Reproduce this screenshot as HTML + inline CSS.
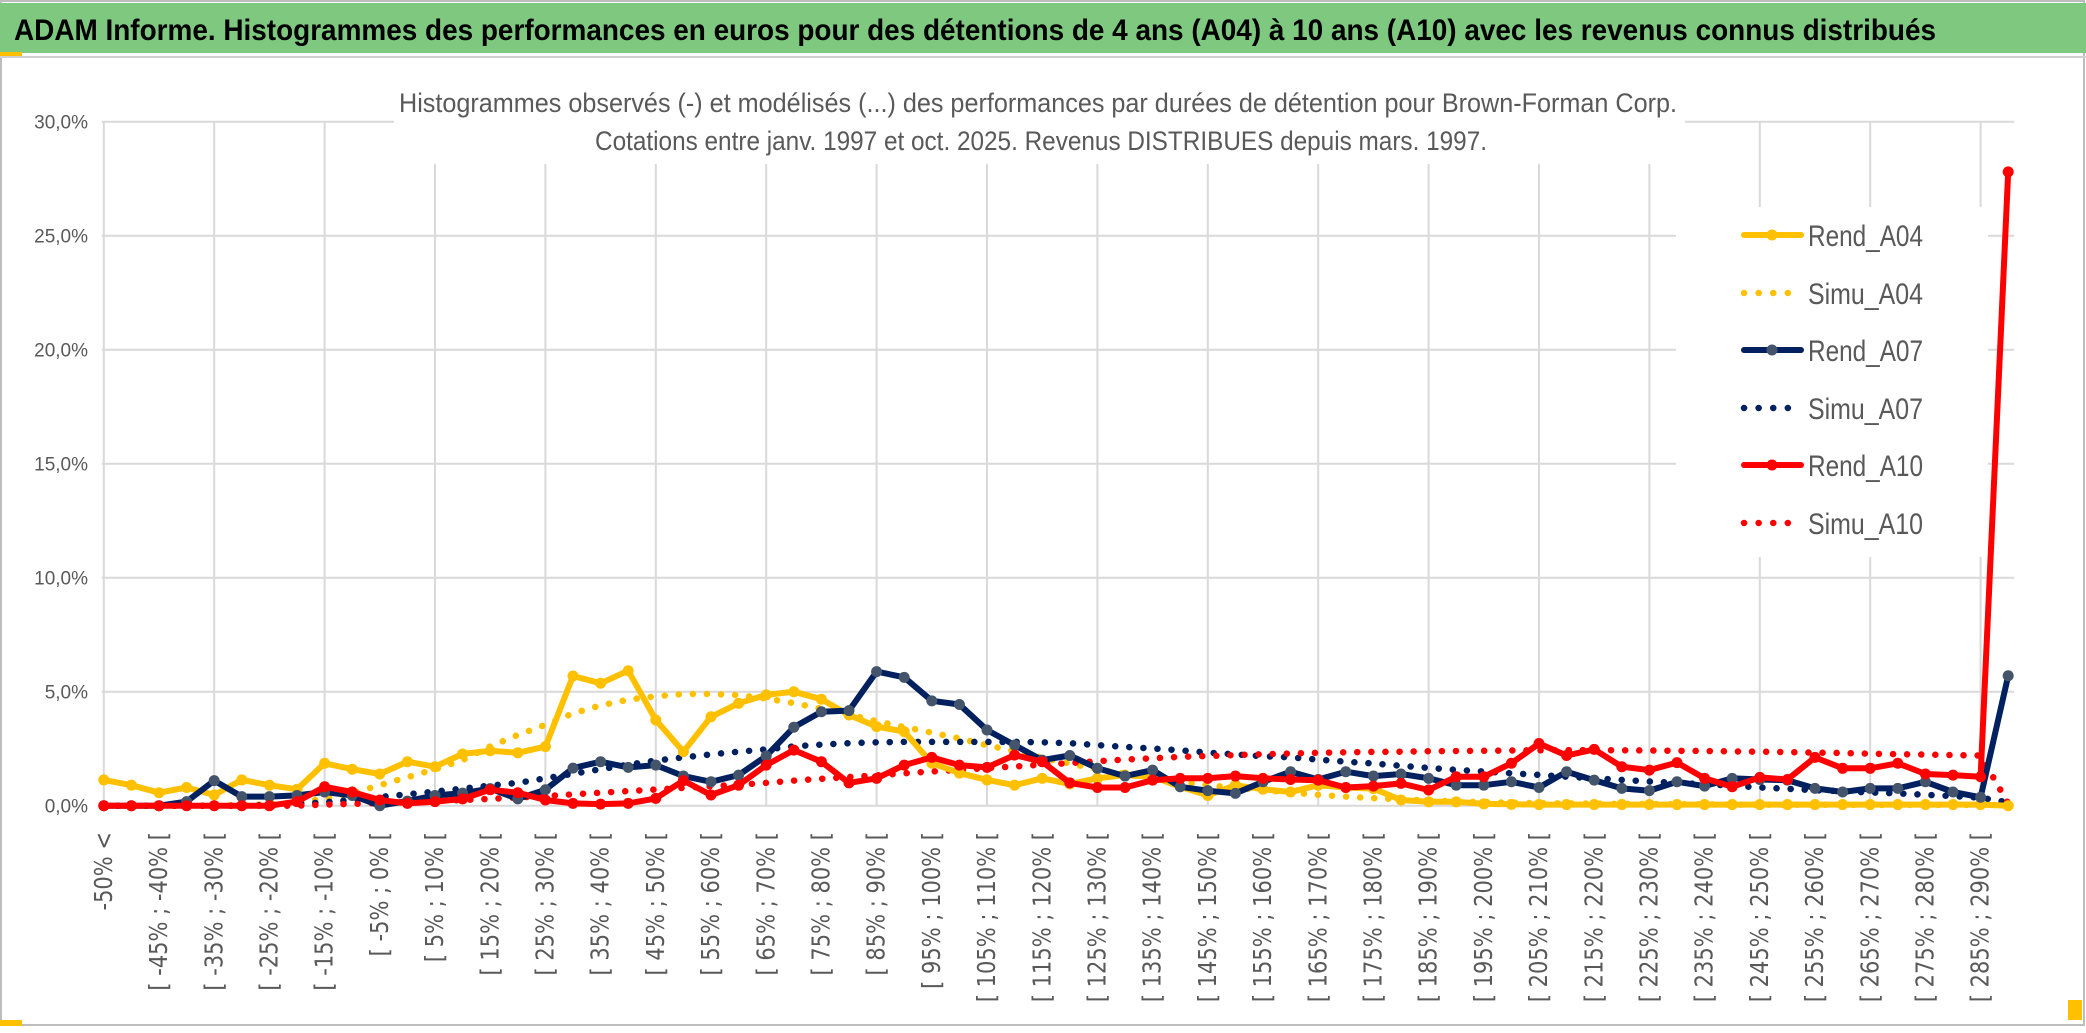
<!DOCTYPE html>
<html><head><meta charset="utf-8"><style>
html,body{margin:0;padding:0;background:#fff;}
svg{display:block;}
</style></head><body>
<svg id="chart" width="2086" height="1033" viewBox="0 0 2086 1033" xmlns="http://www.w3.org/2000/svg">
<rect x="0" y="0" width="2086" height="1033" fill="#fff"/>
<rect x="1" y="1" width="2083" height="1024" fill="none" stroke="#bdbdbd" stroke-width="2"/>
<rect x="0" y="3" width="2086" height="50" fill="#7ec97f"/>
<line x1="0" y1="57" x2="2086" y2="57" stroke="#d0d0d0" stroke-width="2"/>
<rect x="0" y="52" width="22" height="4" fill="#ffc000"/>
<rect x="0" y="1020" width="22" height="6" fill="#ffc000"/>
<rect x="2068" y="1000" width="14" height="20" fill="#ffc000"/>
<text x="14" y="40" font-family="Liberation Sans, sans-serif" font-weight="bold" font-size="30" fill="#000" textLength="1922" lengthAdjust="spacingAndGlyphs">ADAM Informe. Histogrammes des performances en euros pour des détentions de 4 ans (A04) à 10 ans (A10) avec les revenus connus distribués</text>
<g id="grid"></g>
<g id="yaxis"></g>
<g id="xaxis"></g>
<rect x="394" y="66" width="1291" height="98" fill="#fff"/>
<text x="399" y="112" font-family="Liberation Sans, sans-serif" font-size="27" fill="#595959" textLength="1278" lengthAdjust="spacingAndGlyphs">Histogrammes observés (-) et modélisés (...) des performances par durées de détention pour Brown-Forman Corp.</text>
<text x="595" y="150" font-family="Liberation Sans, sans-serif" font-size="27" fill="#595959" textLength="892" lengthAdjust="spacingAndGlyphs">Cotations entre janv. 1997 et oct. 2025. Revenus DISTRIBUES depuis mars. 1997.</text>
<rect x="1676" y="207" width="312" height="350" fill="#fff"/>
<g id="series"></g>
<g id="legend"></g>
</svg>
<script>
const tickLabels = ["-50% <","[ -45% ; -40% [","[ -35% ; -30% [","[ -25% ; -20% [","[ -15% ; -10% [","[ -5% ; 0% [","[ 5% ; 10% [","[ 15% ; 20% [","[ 25% ; 30% [","[ 35% ; 40% [","[ 45% ; 50% [","[ 55% ; 60% [","[ 65% ; 70% [","[ 75% ; 80% [","[ 85% ; 90% [","[ 95% ; 100% [","[ 105% ; 110% [","[ 115% ; 120% [","[ 125% ; 130% [","[ 135% ; 140% [","[ 145% ; 150% [","[ 155% ; 160% [","[ 165% ; 170% [","[ 175% ; 180% [","[ 185% ; 190% [","[ 195% ; 200% [","[ 205% ; 210% [","[ 215% ; 220% [","[ 225% ; 230% [","[ 235% ; 240% [","[ 245% ; 250% [","[ 255% ; 260% [","[ 265% ; 270% [","[ 275% ; 280% [","[ 285% ; 290% ["];
const yTicks = [0,5,10,15,20,25,30];
const yTickLabels = ["0,0%","5,0%","10,0%","15,0%","20,0%","25,0%","30,0%"];
const rendA04 = [1.13,0.9,0.57,0.8,0.47,1.13,0.9,0.72,1.86,1.6,1.39,1.93,1.71,2.27,2.41,2.32,2.59,5.69,5.37,5.92,3.76,2.37,3.9,4.49,4.86,5.0,4.67,3.98,3.47,3.25,1.87,1.43,1.13,0.9,1.2,0.95,1.2,1.34,1.27,0.83,0.45,0.9,0.72,0.6,0.9,0.8,0.75,0.25,0.17,0.17,0.08,0.06,0.05,0.05,0.05,0.05,0.05,0.05,0.05,0.05,0.05,0.05,0.05,0.05,0.05,0.05,0.05,0.05,0.05,0.0];
const simuA04 = [0,0,0,0,0.01,0.03,0.07,0.15,0.3,0.55,0.9,1.25,1.6,2.0,2.6,3.1,3.55,4.05,4.4,4.65,4.8,4.9,4.9,4.85,4.7,4.5,4.25,4.0,3.7,3.45,3.2,2.95,2.65,2.4,2.1,1.85,1.6,1.4,1.2,1.05,0.9,0.78,0.68,0.58,0.48,0.4,0.33,0.28,0.23,0.19,0.16,0.13,0.11,0.1,0.09,0.08,0.07,0.06,0.06,0.05,0.05,0.04,0.04,0.04,0.03,0.03,0.03,0.03,0.03,0.03];
const rendA07 = [0,0,0,0.18,1.1,0.4,0.4,0.45,0.6,0.45,0,0.2,0.45,0.55,0.75,0.3,0.7,1.65,1.93,1.68,1.78,1.3,1.05,1.34,2.18,3.44,4.12,4.17,5.88,5.63,4.6,4.44,3.32,2.66,2.0,2.2,1.64,1.3,1.56,0.83,0.66,0.54,1.05,1.49,1.15,1.49,1.3,1.39,1.2,0.9,0.9,1.05,0.8,1.49,1.12,0.76,0.66,1.05,0.86,1.2,1.15,1.12,0.76,0.6,0.76,0.76,1.05,0.6,0.37,5.7];
const simuA07 = [0,0,0,0,0,0,0.03,0.08,0.15,0.25,0.38,0.5,0.62,0.75,0.88,1.0,1.2,1.4,1.6,1.8,1.98,2.12,2.25,2.37,2.47,2.6,2.68,2.74,2.78,2.8,2.8,2.8,2.8,2.8,2.78,2.74,2.66,2.58,2.51,2.43,2.33,2.25,2.17,2.12,2.02,1.93,1.85,1.75,1.66,1.57,1.5,1.42,1.35,1.27,1.2,1.13,1.06,1.0,0.94,0.88,0.8,0.74,0.68,0.63,0.58,0.54,0.48,0.42,0.35,0.15];
const rendA10 = [0,0,0,0,0,0,0,0.18,0.83,0.6,0.25,0.1,0.18,0.3,0.7,0.57,0.25,0.1,0.07,0.1,0.32,1.1,0.47,0.9,1.78,2.44,1.93,1.0,1.2,1.78,2.12,1.78,1.68,2.22,1.93,1.0,0.8,0.8,1.12,1.2,1.2,1.3,1.2,1.15,1.12,0.8,0.86,0.98,0.69,1.27,1.27,1.86,2.73,2.2,2.47,1.71,1.56,1.89,1.2,0.83,1.24,1.15,2.12,1.64,1.64,1.86,1.39,1.34,1.27,27.8];
const simuA10 = [0,0,0,0,0,0,0,0,0.05,0.08,0.12,0.16,0.2,0.25,0.3,0.36,0.42,0.5,0.57,0.64,0.71,0.78,0.85,0.92,1.0,1.1,1.18,1.26,1.33,1.42,1.5,1.57,1.65,1.72,1.8,1.87,1.95,2.02,2.08,2.14,2.18,2.22,2.26,2.29,2.32,2.34,2.36,2.37,2.39,2.4,2.41,2.42,2.43,2.44,2.44,2.43,2.42,2.41,2.4,2.38,2.37,2.35,2.33,2.31,2.28,2.26,2.24,2.22,2.2,0.1];
const seriesNames = ["Rend_A04","Simu_A04","Rend_A07","Simu_A07","Rend_A10","Simu_A10"];

const NS = "http://www.w3.org/2000/svg";
const X0 = 103.8, DX = 27.6, Y0 = 805.7, PERPCT = 22.8;
function xScale(i){ return X0 + DX*i; }
function yScale(v){ return Y0 - v*PERPCT; }
function mk(tag, attrs, parent){
  const e = document.createElementNS(NS, tag);
  for (const k in attrs) e.setAttribute(k, attrs[k]);
  parent.appendChild(e); return e;
}
const grid = document.getElementById('grid');
const yaxis = document.getElementById('yaxis');
const xaxis = document.getElementById('xaxis');
const series = document.getElementById('series');
const legend = document.getElementById('legend');
const nCat = rendA04.length;
const xRight = xScale(nCat-1) + 6;

yTicks.forEach((v,k)=>{
  const l = mk('line',{x1:xScale(0)-2,x2:xRight,y1:yScale(v),y2:yScale(v),stroke:'#d9d9d9','stroke-width':2},grid);
  
  
  const t = mk('text',{x:88,y:yScale(v)+7,'text-anchor':'end','font-family':'Liberation Sans, sans-serif','font-size':19,fill:'#595959'},yaxis);
  t.textContent = yTickLabels[k];
  
  
});
for (let i=0;i<nCat;i+=4){
  const l = mk('line',{x1:xScale(i),x2:xScale(i),y1:yScale(30),y2:Y0,stroke:'#d9d9d9','stroke-width':2},grid);
  
  
}
tickLabels.forEach((lab,k)=>{
  const i = k*2;
  const t = mk('text',{'text-anchor':'end','dominant-baseline':'central','font-family':'DejaVu Sans, sans-serif','font-size':21,fill:'#595959',transform:`translate(${xScale(i)},832) rotate(-90) scale(1,1.2)`},xaxis);
  t.textContent = lab;
  
  
});

function pts(arr){ return arr.map((v,i)=>xScale(i).toFixed(1)+','+yScale(v).toFixed(1)).join(' '); }
function dotted(arr,color,name){
  const p = mk('polyline',{points:pts(arr),fill:'none',stroke:color,'stroke-width':6.5,'stroke-linecap':'round','stroke-dasharray':'0.1 14'},series);
  
  
}
function solid(arr,color,mcolor,name){
  const p = mk('polyline',{points:pts(arr),fill:'none',stroke:color,'stroke-width':6,'stroke-linejoin':'round'},series);
  
  
  arr.forEach((v,i)=>{
    const c = mk('circle',{cx:xScale(i),cy:yScale(v),r:5.5,fill:mcolor},series);
    
    
  });
}
dotted(simuA04,'#ffc000','simu-a04-line');
dotted(simuA07,'#002060','simu-a07-line');
dotted(simuA10,'#ff0000','simu-a10-line');
solid(rendA04,'#ffc000','#ffc000','rend-a04-line');
solid(rendA07,'#002060','#44546a','rend-a07-line');
solid(rendA10,'#ff0000','#ff0000','rend-a10-line');

const legY = [235,293,350,408,465,523];
const legColor = ['#ffc000','#ffc000','#002060','#002060','#ff0000','#ff0000'];
const legMarker = ['#ffc000',null,'#44546a',null,'#ff0000',null];
seriesNames.forEach((nm,k)=>{
  const y = legY[k];
  if (legMarker[k]){
    const l = mk('line',{x1:1744,x2:1801,y1:y,y2:y,stroke:legColor[k],'stroke-width':6,'stroke-linecap':'round'},legend);
    
    
    const c = mk('circle',{cx:1772,cy:y,r:5.5,fill:legMarker[k]},legend);
    
    
  } else {
    const l = mk('line',{x1:1744,x2:1800,y1:y,y2:y,stroke:legColor[k],'stroke-width':6.5,'stroke-linecap':'round','stroke-dasharray':'0.1 14.5'},legend);
    
    
  }
  const t = mk('text',{x:1808,y:y+11,'font-family':'Liberation Sans, sans-serif','font-size':30,fill:'#595959',textLength:115,lengthAdjust:'spacingAndGlyphs'},legend);
  t.textContent = nm;
  
  
});
</script>
</body></html>
